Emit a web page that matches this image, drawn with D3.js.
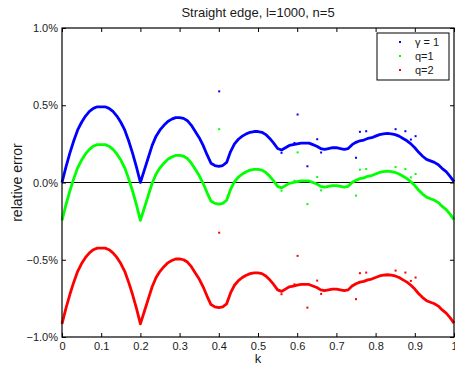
<!DOCTYPE html>
<html>
<head>
<meta charset="utf-8">
<script src="https://cdn.jsdelivr.net/npm/d3@7"></script>
<style>
  body { margin: 0; background: #fff; }
  text { font-family: "Liberation Sans", Arial, sans-serif; fill: #1a1a1a; }
</style>
</head>
<body>
<div id="chart"></div>
<script>
// k values, step 0.01
const kValues = d3.range(0, 101).map(i => i / 100);

// relative error in percent
const gammaOne = [
  0.00, 0.10, 0.19, 0.27, 0.34, 0.39, 0.43, 0.46, 0.48, 0.49,
  0.49, 0.49, 0.48, 0.46, 0.43, 0.39, 0.34, 0.27, 0.19, 0.10,
  0.00, 0.08, 0.16, 0.24, 0.30, 0.34, 0.37, 0.395, 0.41, 0.42,
  0.42, 0.415, 0.40, 0.37, 0.33, 0.29, 0.24, 0.18, 0.125, 0.11,
  0.105, 0.11, 0.13, 0.20, 0.25, 0.28, 0.30, 0.315, 0.325, 0.33,
  0.33, 0.325, 0.31, 0.285, 0.255, 0.22, 0.21, 0.225, 0.24, 0.245,
  0.25, 0.255, 0.255, 0.255, 0.245, 0.235, 0.22, 0.215, 0.22, 0.225,
  0.225, 0.22, 0.215, 0.22, 0.245, 0.26, 0.27, 0.275, 0.285, 0.29,
  0.30, 0.31, 0.315, 0.318, 0.315, 0.31, 0.30, 0.285, 0.27, 0.25,
  0.225, 0.195, 0.17, 0.15, 0.14, 0.13, 0.115, 0.09, 0.07, 0.04,
  0.005
];
const qOne = [
  -0.245, -0.145, -0.055, 0.025, 0.095, 0.145, 0.185, 0.215, 0.235, 0.245,
  0.245, 0.245, 0.235, 0.215, 0.185, 0.145, 0.095, 0.025, -0.055, -0.145,
  -0.245, -0.165, -0.085, -0.005, 0.055, 0.095, 0.125, 0.15, 0.165, 0.175,
  0.175, 0.17, 0.155, 0.125, 0.085, 0.045, -0.005, -0.065, -0.12, -0.135,
  -0.14, -0.135, -0.115, -0.045, 0.005, 0.035, 0.055, 0.07, 0.08, 0.085,
  0.085, 0.08, 0.065, 0.04, 0.01, -0.025, -0.035, -0.02, -0.005, 0.0,
  0.005, 0.01, 0.01, 0.01, 0.0, -0.01, -0.025, -0.03, -0.025, -0.02,
  -0.02, -0.025, -0.03, -0.025, 0.0, 0.015, 0.025, 0.03, 0.04, 0.045,
  0.055, 0.065, 0.07, 0.073, 0.07, 0.065, 0.055, 0.04, 0.025, 0.005,
  -0.02, -0.05, -0.075, -0.095, -0.105, -0.115, -0.13, -0.155, -0.175, -0.205,
  -0.24
];
const qTwo = [
  -0.915, -0.815, -0.725, -0.645, -0.575, -0.525, -0.485, -0.455, -0.435, -0.425,
  -0.425, -0.425, -0.435, -0.455, -0.485, -0.525, -0.575, -0.645, -0.725, -0.815,
  -0.915, -0.835, -0.755, -0.675, -0.615, -0.575, -0.545, -0.52, -0.505, -0.495,
  -0.495, -0.50, -0.515, -0.545, -0.585, -0.625, -0.675, -0.735, -0.79, -0.805,
  -0.81, -0.805, -0.785, -0.715, -0.665, -0.635, -0.615, -0.60, -0.59, -0.585,
  -0.585, -0.59, -0.605, -0.63, -0.66, -0.695, -0.705, -0.69, -0.675, -0.67,
  -0.665, -0.66, -0.66, -0.66, -0.67, -0.68, -0.695, -0.70, -0.695, -0.69,
  -0.69, -0.695, -0.70, -0.695, -0.67, -0.655, -0.645, -0.64, -0.63, -0.625,
  -0.615, -0.605, -0.60, -0.597, -0.60, -0.605, -0.615, -0.63, -0.645, -0.665,
  -0.69, -0.72, -0.745, -0.765, -0.775, -0.785, -0.80, -0.825, -0.845, -0.875,
  -0.91
];

// stray points off the band, [k, value]
const gammaOneStray = [[0.401,0.59],[0.601,0.44],[0.626,0.105],[0.75,0.16],[0.760,0.328],[0.776,0.332],[0.851,0.345],[0.876,0.332],[0.902,0.30],[0.89,0.278],[0.651,0.28],[0.661,0.194],[0.560,0.192],[0.593,0.256]];
const qOneStray = [[0.401,0.345],[0.601,0.195],[0.626,-0.14],[0.75,-0.085],[0.760,0.083],[0.776,0.087],[0.851,0.10],[0.876,0.087],[0.902,0.055],[0.89,0.033],[0.651,0.035],[0.661,-0.051],[0.560,-0.053],[0.593,0.011]];
const qTwoStray = [[0.401,-0.325],[0.601,-0.475],[0.626,-0.81],[0.75,-0.755],[0.760,-0.587],[0.776,-0.583],[0.851,-0.57],[0.876,-0.583],[0.902,-0.615],[0.89,-0.637],[0.651,-0.635],[0.661,-0.721],[0.560,-0.723],[0.593,-0.659]];

const xTicks = [0, 0.1, 0.2, 0.3, 0.4, 0.5, 0.6, 0.7, 0.8, 0.9, 1];
const yTicks = [-1, -0.5, 0, 0.5, 1];
const seriesNames = ["\u03b3 = 1", "q=1", "q=2"];

const series = [
  { name: seriesNames[0], values: gammaOne, stray: gammaOneStray, color: "#0000ff" },
  { name: seriesNames[1], values: qOne, stray: qOneStray, color: "#00ff00" },
  { name: seriesNames[2], values: qTwo, stray: qTwoStray, color: "#ff0000" }
];

const width = 455, height = 367;
const m = { left: 62, right: 454, top: 28, bottom: 337 };

const svg = d3.select("#chart").append("svg")
  .attr("width", width)
  .attr("height", height);

const x = d3.scaleLinear().domain([0, 1]).range([m.left, m.right]);
const y = d3.scaleLinear().domain([-1, 1]).range([m.bottom, m.top]);

const fmtY = d => d3.format(".1f")(d).replace("-", "\u2212") + "%";
const fmtX = d => d === 0 ? "0" : d === 1 ? "1" : d3.format(".1f")(d);

// zero line
svg.append("line")
  .attr("x1", m.left).attr("x2", m.right)
  .attr("y1", y(0)).attr("y2", y(0))
  .attr("stroke", "#000").attr("stroke-width", 1);

// data bands
const line = d3.line()
  .x((d, i) => x(kValues[i]))
  .y(d => y(d));

series.forEach(s => {
  svg.append("path")
    .attr("d", line(s.values))
    .attr("fill", "none")
    .attr("stroke", s.color)
    .attr("stroke-width", 2.8)
    .attr("stroke-linejoin", "round");
  svg.append("g").selectAll("rect")
    .data(s.stray)
    .join("rect")
    .attr("x", d => x(d[0]) - 1)
    .attr("y", d => y(d[1]) - 1)
    .attr("width", 2)
    .attr("height", 2)
    .attr("fill", s.color);
});

// axes, MATLAB box style with inward ticks
const tick = 4;
svg.append("g")
  .attr("transform", `translate(0,${m.bottom})`)
  .call(d3.axisBottom(x).tickValues(xTicks).tickSize(-tick).tickPadding(5).tickFormat(fmtX))
  .call(g => g.select(".domain").remove());
svg.append("g")
  .attr("transform", `translate(0,${m.top})`)
  .call(d3.axisTop(x).tickValues(xTicks).tickSize(-tick).tickFormat(""))
  .call(g => g.select(".domain").remove());
svg.append("g")
  .attr("transform", `translate(${m.left},0)`)
  .call(d3.axisLeft(y).tickValues(yTicks).tickSize(-tick).tickPadding(4).tickFormat(fmtY))
  .call(g => g.select(".domain").remove());
svg.append("g")
  .attr("transform", `translate(${m.right},0)`)
  .call(d3.axisRight(y).tickValues(yTicks).tickSize(-tick).tickFormat(""))
  .call(g => g.select(".domain").remove());

svg.selectAll(".tick text")
  .style("font-size", "11px")
  .style("font-family", "Liberation Sans, Arial, sans-serif")
  .attr("fill", "#1a1a1a");
svg.selectAll(".tick line").attr("stroke", "#000");

svg.append("rect")
  .attr("x", m.left).attr("y", m.top)
  .attr("width", m.right - m.left).attr("height", m.bottom - m.top)
  .attr("fill", "none").attr("stroke", "#000").attr("stroke-width", 1.2);

// title and labels
svg.append("text")
  .attr("x", (m.left + m.right) / 2).attr("y", 17)
  .attr("text-anchor", "middle")
  .style("font-size", "13px")
  .text("Straight edge, l=1000, n=5");
svg.append("text")
  .attr("x", (m.left + m.right) / 2).attr("y", 363)
  .attr("text-anchor", "middle")
  .style("font-size", "13px")
  .text("k");
svg.append("text")
  .attr("transform", `translate(22,${(m.top + m.bottom) / 2}) rotate(-90)`)
  .attr("text-anchor", "middle")
  .style("font-size", "14px")
  .text("relative error");

// legend
const legend = svg.append("g");
legend.append("rect")
  .attr("x", 377).attr("y", 33)
  .attr("width", 72).attr("height", 47)
  .attr("fill", "#fff").attr("stroke", "#000").attr("stroke-width", 1);
series.forEach((s, i) => {
  const ly = 42 + i * 14;
  legend.append("rect")
    .attr("x", 399).attr("y", ly - 1)
    .attr("width", 2).attr("height", 2)
    .attr("fill", s.color);
  legend.append("text")
    .attr("x", 415).attr("y", ly + 4)
    .style("font-size", "11px")
    .text(s.name);
});
</script>
</body>
</html>
